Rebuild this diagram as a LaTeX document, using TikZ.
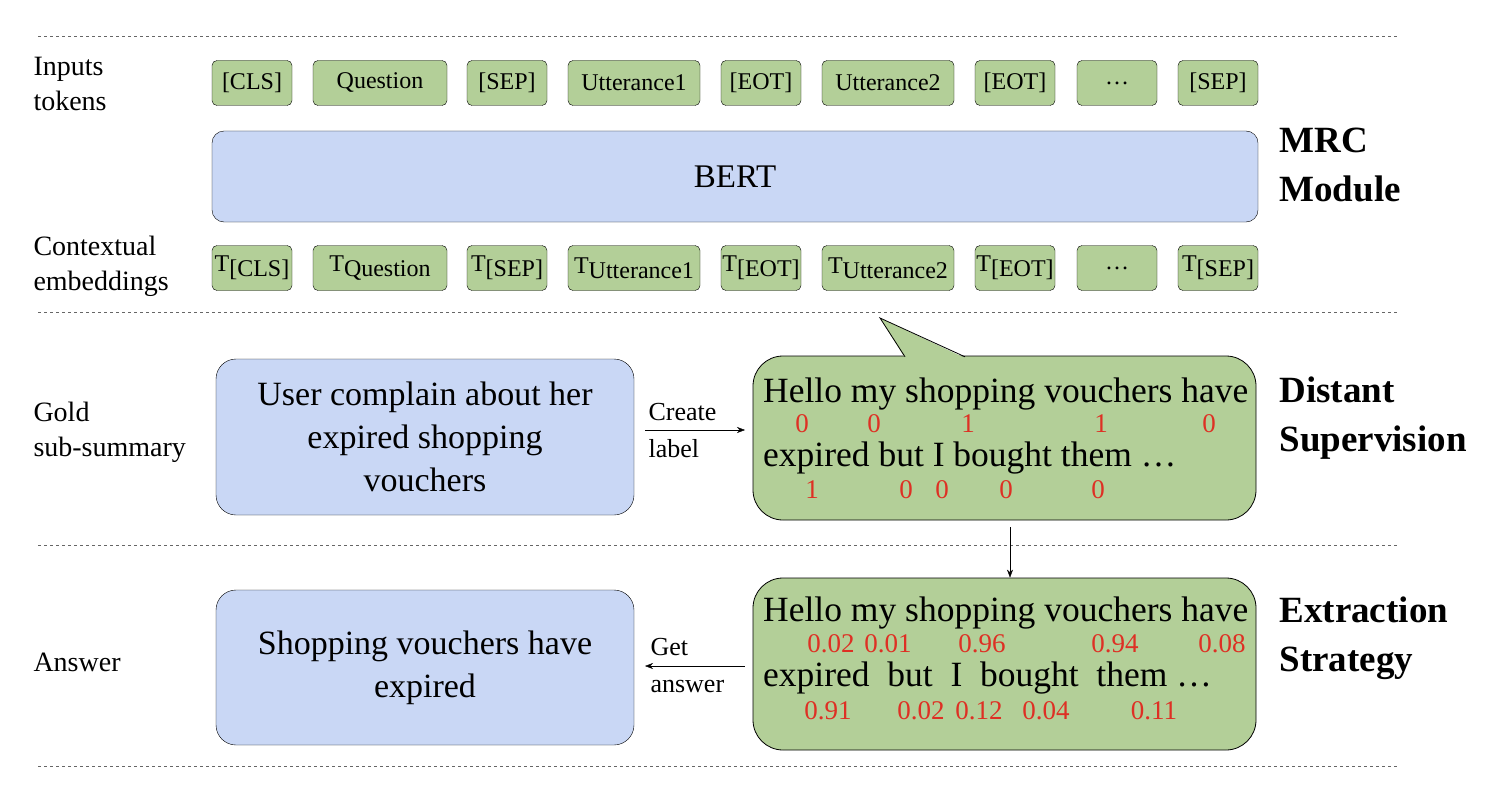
\documentclass[tikz,border=0pt]{standalone}
\usepackage{fontspec}
\setmainfont{Liberation Serif}
\usepackage{tikz}
\usetikzlibrary{arrows.meta}
\definecolor{tokgreen}{RGB}{179,207,152}
\definecolor{boxblue}{RGB}{201,215,245}
\definecolor{numred}{RGB}{222,48,36}
\newcommand{\tsub}[1]{T\raisebox{-5pt}{#1}}
\tikzset{
  tok/.style={draw=black,fill=tokgreen,rounded corners=5pt,minimum height=45pt,inner sep=0pt,font=\fontsize{24}{24}\selectfont},
  side/.style={anchor=west,font=\fontsize{28}{35}\selectfont,align=left},
  head/.style={anchor=west,font=\fontsize{37}{49}\selectfont\bfseries,align=left},
  num/.style={text=numred,font=\fontsize{27}{27}\selectfont,inner sep=0pt},
  line/.style={anchor=west,font=\fontsize{35.5}{35.5}\selectfont,inner sep=0pt},
  sep/.style={dashed,black!60,thin}
}
\begin{document}
\begin{tikzpicture}[x=1pt,y=-1pt]
\useasboundingbox (0,0) rectangle (1512,797);
% separators
\foreach \y in {36,312,545,766}
  \draw [sep] (38,\y) -- (1397,\y);

% token rows
\begin{scope}[every node/.style={tok}]
  \node[minimum width=80pt]  (c1) at (252,83)  {[CLS]};
  \node[minimum width=134pt] (c2) at (380,83)  {Question};
  \node[minimum width=80pt]  (c3) at (507,83)  {[SEP]};
  \node[minimum width=132pt] (c4) at (634,83)  {Utterance1};
  \node[minimum width=80pt]  (c5) at (761,83)  {[EOT]};
  \node[minimum width=132pt] (c6) at (888,83)  {Utterance2};
  \node[minimum width=80pt]  (c7) at (1015,83) {[EOT]};
  \node[minimum width=80pt]  (c8) at (1117,83) {\dots};
  \node[minimum width=80pt]  (c9) at (1218,83) {[SEP]};

  \node[minimum width=80pt]  (t1) at (252,268)  {\tsub{[CLS]}};
  \node[minimum width=134pt] (t2) at (380,268)  {\tsub{Question}};
  \node[minimum width=80pt]  (t3) at (507,268)  {\tsub{[SEP]}};
  \node[minimum width=132pt] (t4) at (634,268)  {\tsub{Utterance1}};
  \node[minimum width=80pt]  (t5) at (761,268)  {\tsub{[EOT]}};
  \node[minimum width=132pt] (t6) at (888,268)  {\tsub{Utterance2}};
  \node[minimum width=80pt]  (t7) at (1015,268) {\tsub{[EOT]}};
  \node[minimum width=80pt]  (t8) at (1117,268) {\dots};
  \node[minimum width=80pt]  (t9) at (1218,268) {\tsub{[SEP]}};
\end{scope}
\node[draw=black,fill=boxblue,rounded corners=12pt,minimum width=1046pt,minimum height=91pt,
      font=\fontsize{33}{33}\selectfont] (bert) at (735,176.5) {BERT};

% left labels
\node[side] (inp) at (30,84) {Inputs\\tokens};
\node[side] (ctx) at (30,266) {Contextual\\embeddings};
\node[side] (gold) at (30,432) {Gold\\sub-summary};
\node[side] (ans) at (30,662) {Answer};

% right headings
\node[head] (mrc) at (1276,165) {MRC\\Module};
\node[head] (ds) at (1276,418) {Distant\\Supervision};
\node[head] (es) at (1276,638) {Extraction\\Strategy};

% summary boxes
\node[draw=black,fill=boxblue,rounded corners=20pt,minimum width=418pt,minimum height=156pt,
      align=center,font=\fontsize{34}{43}\selectfont] (sum) at (425,437)
      {User complain about her\\expired shopping\\vouchers};
\node[draw=black,fill=boxblue,rounded corners=20pt,minimum width=418pt,minimum height=155pt,
      align=center,font=\fontsize{34}{43}\selectfont] (res) at (425,667.5)
      {Shopping vouchers have\\expired};

% callout with labels
\draw[black,thick,fill=tokgreen,rounded corners=30pt]
  (753,438) |- (1256,356) |- (753,520) -- cycle;
\fill[tokgreen] (905,358) -- (880,318) -- (965,358) -- cycle;
\draw[black,thick] (905,356.8) -- (880,318) -- (965,356.8);
\node[line] (l1) at (763,394) {Hello my shopping vouchers have};
\node[line] (l2) at (763,458) {expired but I bought them \dots};
\foreach \x/\v in {802/0,874/0,968/1,1101/1,1209/0}
  \node[num] at (\x,424) {\v};
\foreach \x/\v in {812/1,906/0,942/0,1006/0,1098/0}
  \node[num] at (\x,490) {\v};

% scored box
\node[draw=black,thick,fill=tokgreen,rounded corners=30pt,minimum width=503pt,minimum height=172pt] (score) at (1004.5,664) {};
\node[line] (s1) at (763,613) {Hello my shopping vouchers have};
\node[line] (s2) at (763,678) {expired\ \ but\ \ I\ \ bought\ \ them \dots};
\foreach \x/\v in {831/0.02,888/0.01,982/0.96,1115/0.94,1222/0.08}
  \node[num] at (\x,644) {\v};
\foreach \x/\v in {828/0.91,921/0.02,979/0.12,1046/0.04,1154/0.11}
  \node[num] at (\x,711) {\v};

% connectors
\coordinate (lab) at (1010,527);
\coordinate (labin) at (745,430);
\coordinate (ansout) at (645,666);
\draw[-{Stealth[length=8pt]}] (sum.east |- labin) ++(11,0) coordinate (a0) (a0) -- (labin);
\node[font=\fontsize{26}{37}\selectfont,align=left,anchor=west] (create) at (645,431) {Create\\label};
\draw[-{Stealth[length=8pt]}] (lab) -- (score.north -| lab);
\draw[-{Stealth[length=8pt]}] (score.west |- ansout) ++(-8,0) coordinate (a1) (a1) -- (ansout);
\node[font=\fontsize{26}{37}\selectfont,align=left,anchor=west] (get) at (647,666) {Get\\answer};
\end{tikzpicture}
\end{document}
